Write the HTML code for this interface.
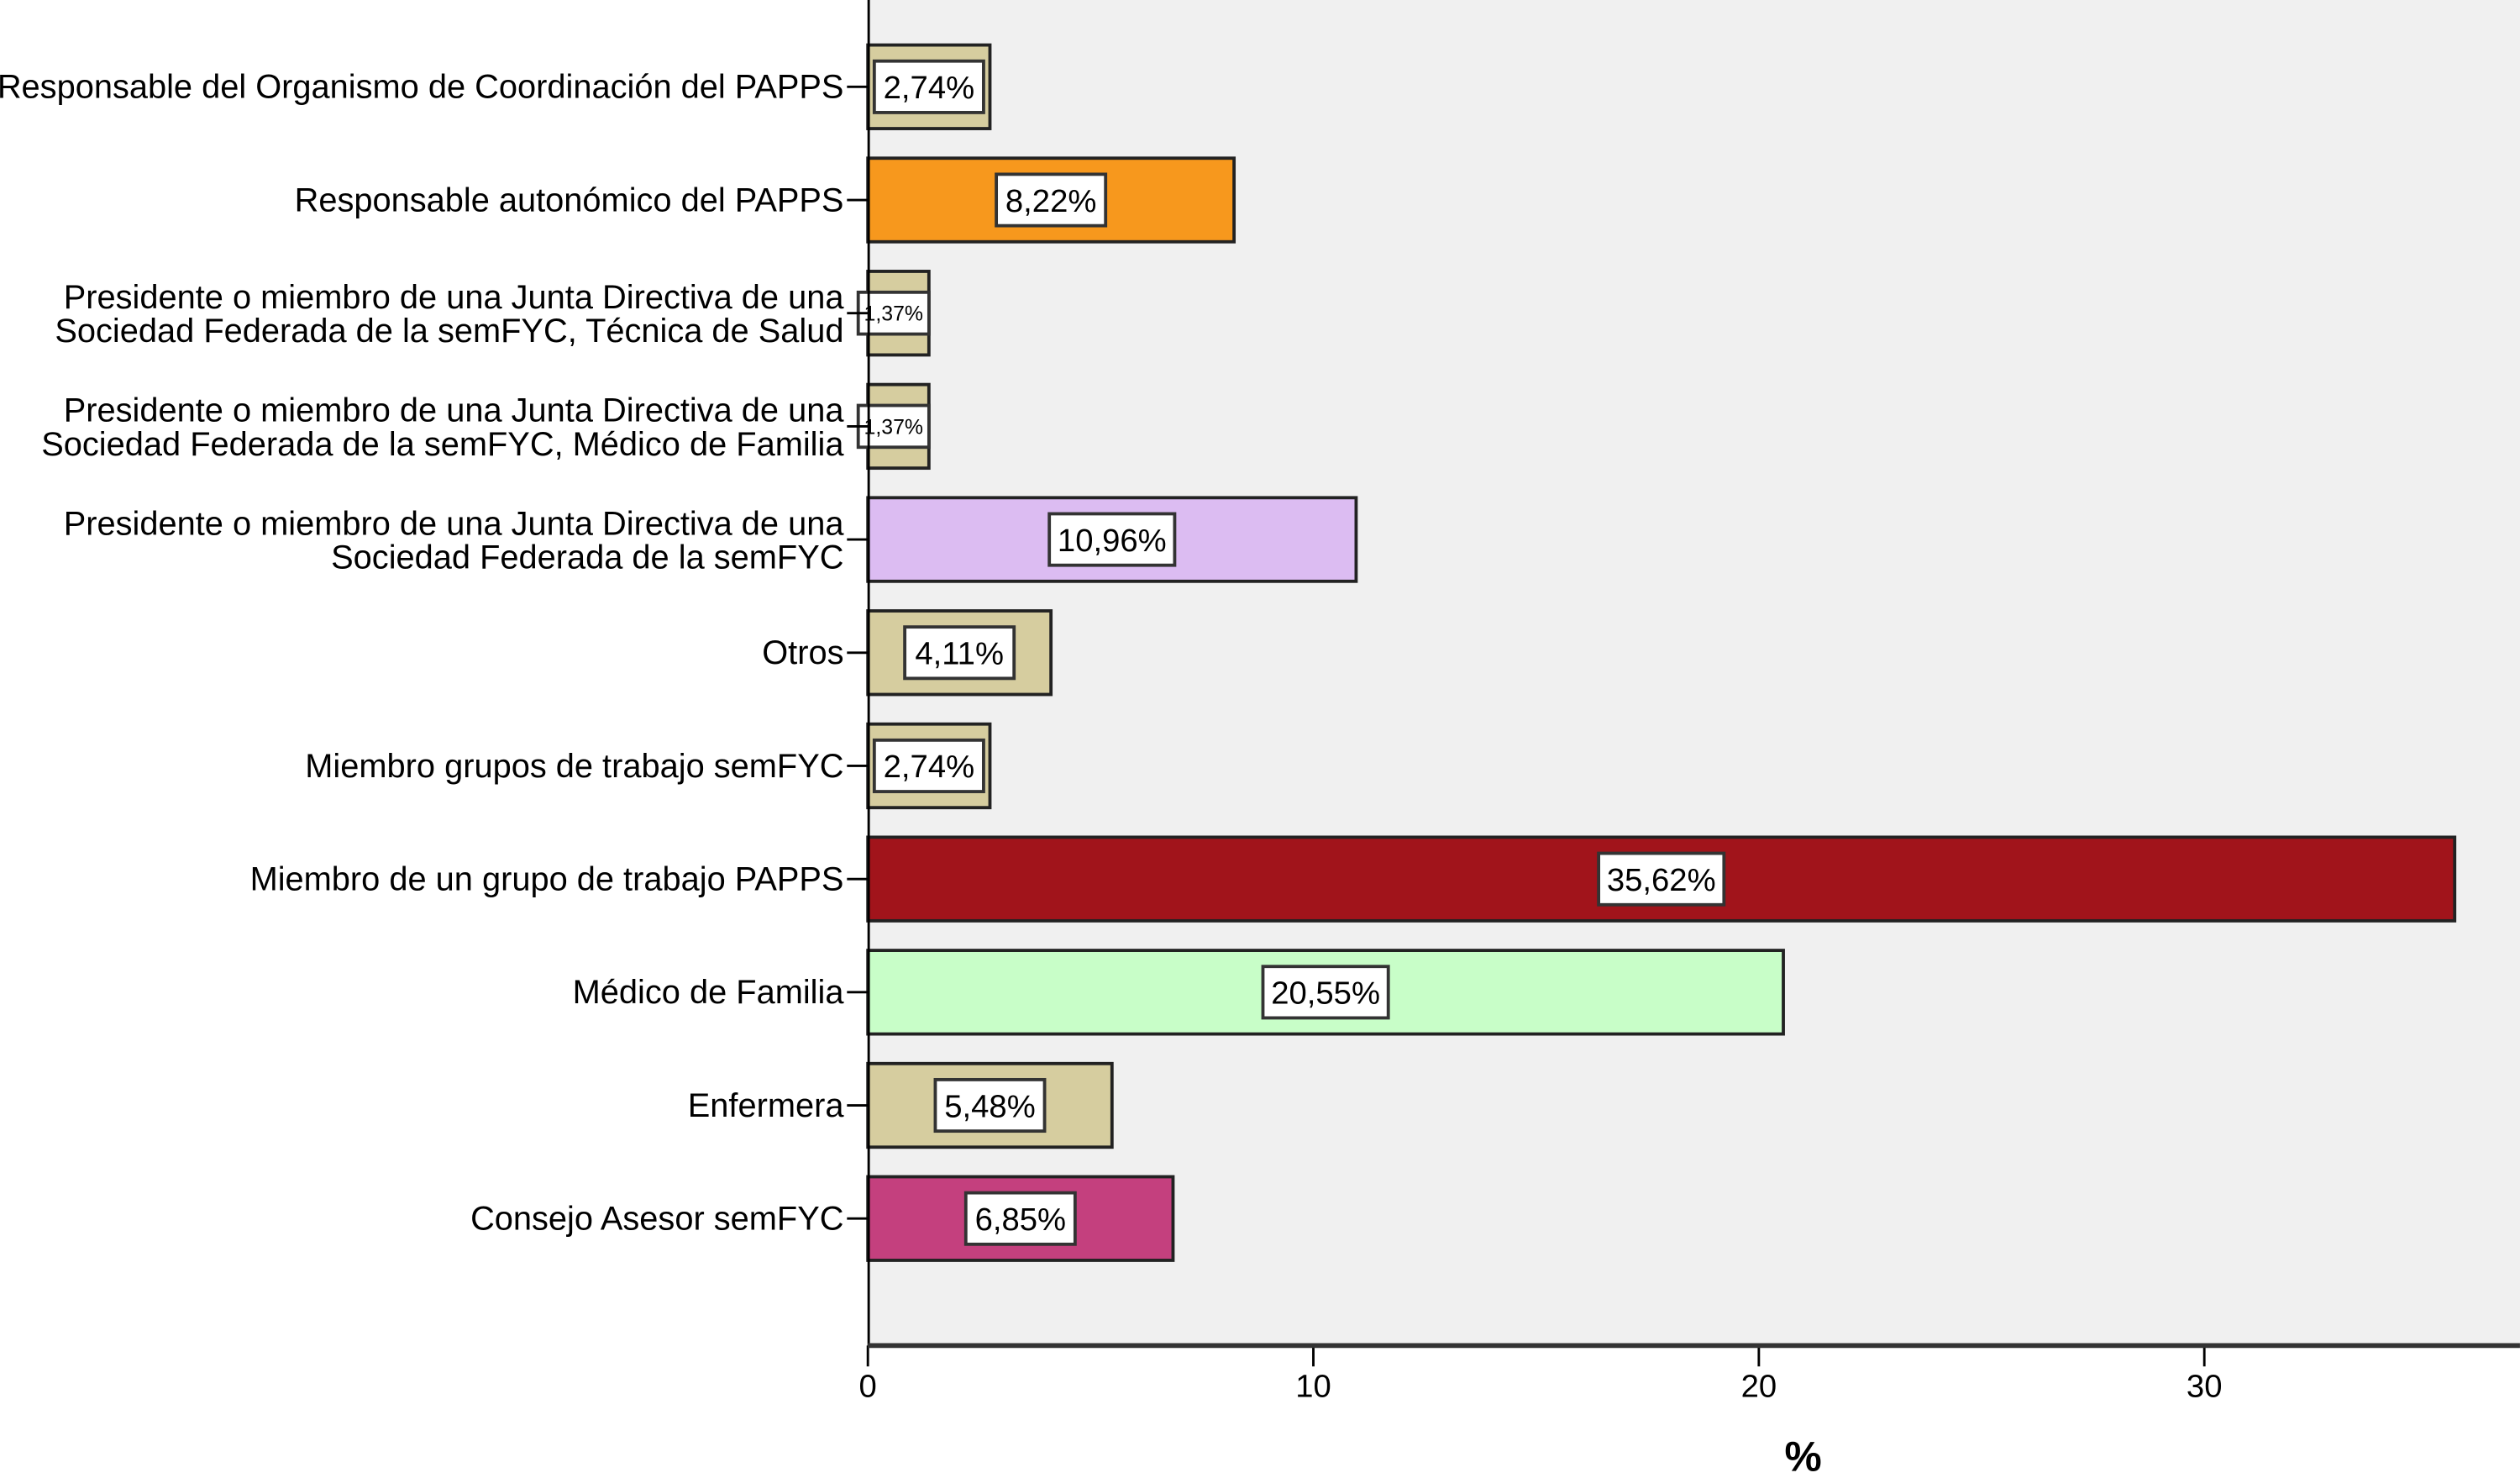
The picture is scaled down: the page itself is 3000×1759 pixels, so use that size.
<!DOCTYPE html>
<html><head><meta charset="utf-8"><style>
html,body{margin:0;padding:0;background:#fff}
svg{display:block}
text{font-family:"Liberation Sans",Arial,sans-serif;fill:#000}
</style></head><body>
<svg id="chart" width="3000" height="1759" viewBox="0 0 1568 919.4" xmlns="http://www.w3.org/2000/svg">
<rect x="540" y="0" width="1028" height="836" fill="#f0f0f0"/>
<g id="bars"></g>
<g id="ylabels"></g>
<g id="xaxis"></g>
<line x1="540.5" y1="0" x2="540.5" y2="838" stroke="#000" stroke-width="1.5"/>
<line x1="540" y1="837" x2="1568" y2="837" stroke="#333" stroke-width="3"/>
<text x="1122" y="915" font-size="26" font-weight="bold" text-anchor="middle">%</text>
</svg>
<script>
const categories = [
  ["Responsable del Organismo de Coordinación del PAPPS"],
  ["Responsable autonómico del PAPPS"],
  ["Presidente o miembro de una Junta Directiva de una","Sociedad Federada de la semFYC, Técnica de Salud"],
  ["Presidente o miembro de una Junta Directiva de una","Sociedad Federada de la semFYC, Médico de Familia"],
  ["Presidente o miembro de una Junta Directiva de una","Sociedad Federada de la semFYC"],
  ["Otros"],
  ["Miembro grupos de trabajo semFYC"],
  ["Miembro de un grupo de trabajo PAPPS"],
  ["Médico de Familia"],
  ["Enfermera"],
  ["Consejo Asesor semFYC"]
];
const values = [2.74, 8.22, 1.37, 1.37, 10.96, 4.11, 2.74, 35.62, 20.55, 5.48, 6.85];
const valueLabels = ["2,74%","8,22%","1,37%","1,37%","10,96%","4,11%","2,74%","35,62%","20,55%","5,48%","6,85%"];
const colors = ["#d6cd9f","#f7981d","#d6cd9f","#d6cd9f","#dcbcf2","#d6cd9f","#d6cd9f","#a1141b","#c8fec8","#d6cd9f","#c4407e"];
const xTicks = [0,10,20,30];

const NS="http://www.w3.org/2000/svg";
const x0=540, pxPerUnit=27.72;
const xScale=v=>x0+v*pxPerUnit;
const yCenter=i=>54+i*70.4;
const barH=52;
function mk(tag,attrs,parent){const e=document.createElementNS(NS,tag);for(const k in attrs)e.setAttribute(k,attrs[k]);parent.appendChild(e);return e;}
const gB=document.getElementById('bars'), gL=document.getElementById('ylabels'), gX=document.getElementById('xaxis');
values.forEach((v,i)=>{
  const yc=yCenter(i), x1=xScale(v);
  const r=mk('rect',{x:x0,y:yc-barH/2,width:x1-x0,height:barH,fill:colors[i],stroke:'#222','stroke-width':2},gB);
  
  
  const small=v<2;
  const fs=small?13:20;
  const bw=small?44:(valueLabels[i].length>5?78:68), bh=small?26:32;
  let bx;
  if((x1-x0)<bw+10) bx=x0+(small?-6:4); else bx=(x0+x1)/2-bw/2;
  const b=mk('rect',{x:bx,y:yc-bh/2,width:bw,height:bh,fill:'#fff',stroke:'#333','stroke-width':2},gB);
  
  
  const t=mk('text',{x:bx+bw/2,y:yc+fs*0.36,'font-size':fs,'text-anchor':'middle'},gB);
  t.textContent=valueLabels[i];
  
  
  const tk=mk('line',{x1:527,y1:yc,x2:540,y2:yc,stroke:'#000','stroke-width':1.5},gL);
  
  
  const lines=categories[i];
  lines.forEach((ln,j)=>{
    const yy = lines.length===1 ? yc+7 : yc-3+j*21;
    const lt=mk('text',{x:525,y:yy,'font-size':20.8,'text-anchor':'end'},gL);
    lt.textContent=ln;
    
    
  });
});
xTicks.forEach(t=>{
  const x=xScale(t);
  const l=mk('line',{x1:x,y1:837,x2:x,y2:850,stroke:'#000','stroke-width':1.5},gX);
  
  
  const tx=mk('text',{x:x,y:869,'font-size':20,'text-anchor':'middle'},gX);
  tx.textContent=t;
  
  
});
</script>
</body></html>
